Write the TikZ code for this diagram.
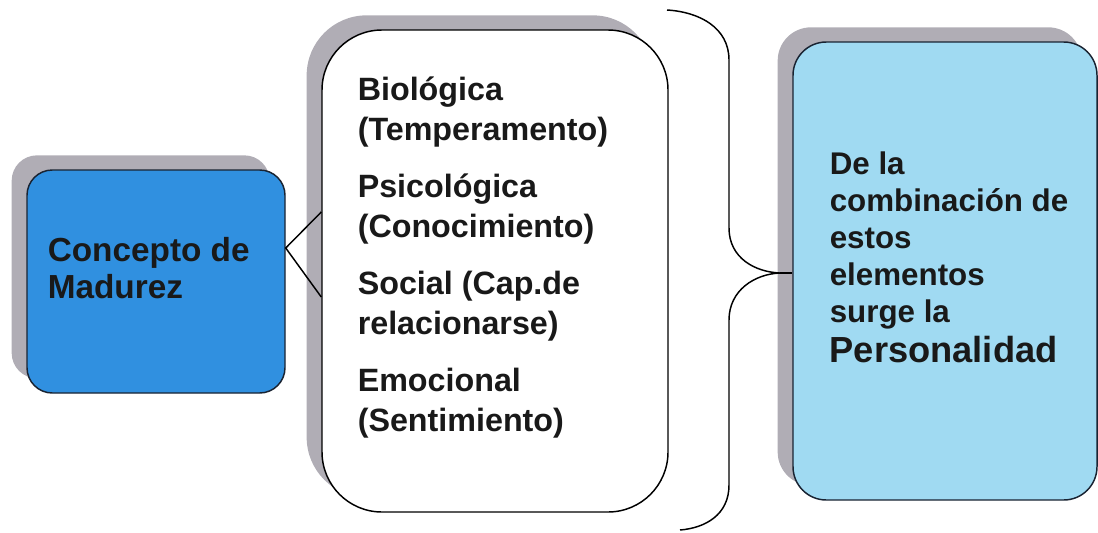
\documentclass[tikz,border=0pt]{standalone}
\usepackage{fontspec}
\setmainfont{Liberation Sans}
\usetikzlibrary{shadows,calc,positioning}

\definecolor{madurezblue}{RGB}{48,144,224}
\definecolor{personblue}{RGB}{160,218,242}
\definecolor{shadowgray}{RGB}{176,173,181}
\definecolor{boxline}{RGB}{25,35,50}

\tikzset{every picture/.style={line width=0.75pt}}
\tikzset{
  roundbox/.style={draw=boxline, line width=1.1pt, rounded corners=#1, inner sep=0pt,
    drop shadow={shadow xshift=-11.5pt, shadow yshift=11pt, fill=shadowgray, opacity=1}},
  boxtext/.style={align=left, inner sep=0pt, anchor=west, text=black!90,
    font=\bfseries\fontsize{23.5}{27.75}\selectfont},
}

\begin{document}
\begin{tikzpicture}[x=0.75pt,y=0.75pt,yscale=-1,xscale=1]
    \useasboundingbox (0,0) rectangle (1098,532);

    %Rounded Rect: Concepto de Madurez
    \node[roundbox=19pt, fill=madurezblue, minimum width=193.5pt, minimum height=167.25pt] (madurez) at (156,281.5) {};
    %Rounded Rect: elementos
    \node[roundbox=45pt, fill=white, draw=black, minimum width=259.5pt, minimum height=361.5pt] (elementos) at (495,271) {};
    %Rounded Rect: Personalidad
    \node[roundbox=25pt, fill=personblue, minimum width=228pt, minimum height=343.5pt] (personalidad) at (945,271) {};

    %Straight Lines
    \draw[line width=1.1pt] ($(elementos.west)+(0,-59)$) -- ($(madurez.east)+(0,-33.5)$) -- ($(elementos.west)+(0,26)$);

    %Shape: Brace
    \coordinate (bracetip) at (780,273);
    \draw[line width=1.1pt] (667,10) .. controls (700,12) and (729,28) .. (729,60) -- (729,228)
        .. controls (729,258) and (755,272) .. (bracetip)
        .. controls (755,274) and (729,290) .. (729,320) -- (729,485)
        .. controls (729,515) and (705,528) .. (680,530);
    \draw[line width=1.1pt] (bracetip) -- (bracetip -| personalidad.west);

    \node[boxtext, font=\bfseries\fontsize{25}{27.75}\selectfont] (madureztxt) at ($(madurez.west)+(21,-13)$) {Concepto de\\Madurez};
    \node[boxtext, font=\bfseries\fontsize{24.2}{30}\selectfont] (elementostxt) at ($(elementos.west)+(36,-13)$)
        {Biológica\\(Temperamento)\\[12.75pt]Psicológica\\(Conocimiento)\\[12.75pt]Social (Cap.de\\relacionarse)\\[12.75pt]Emocional\\(Sentimiento)};
    \node[boxtext] (personalidadtxt) at ($(personalidad.west)+(37,-13.5)$)
        {De la\\combinación de\\estos\\elementos\\surge la\\[2pt]{\fontsize{27.2}{30}\selectfont Personalidad}};

  \end{tikzpicture}
\end{document}
